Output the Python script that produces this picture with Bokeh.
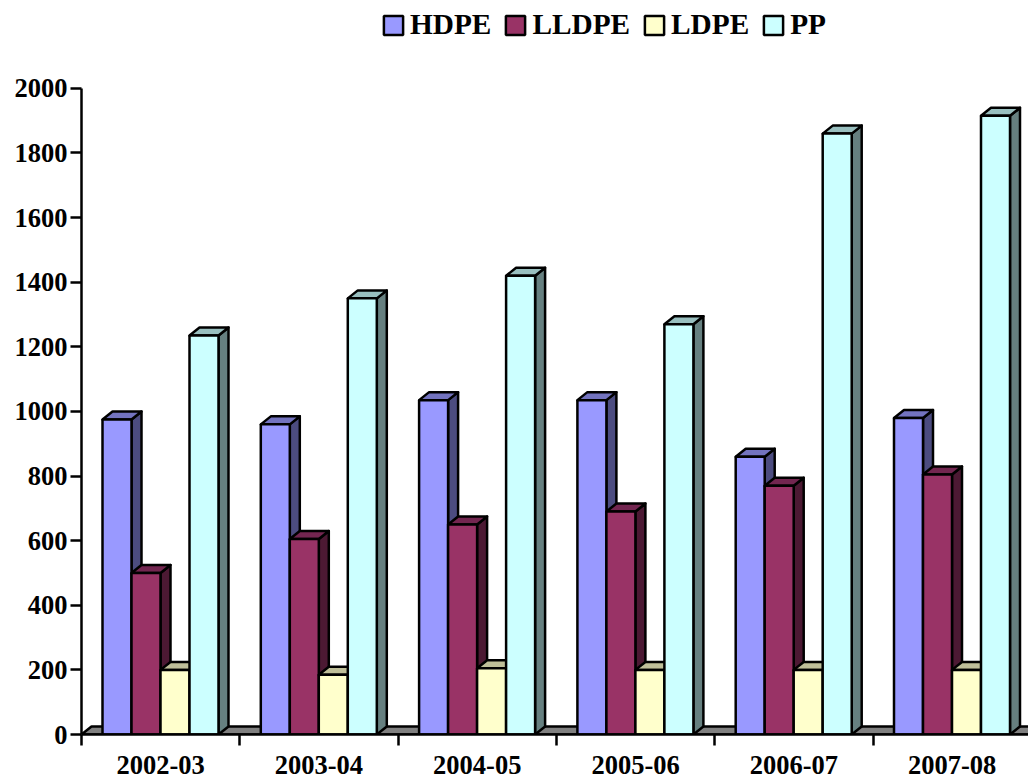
from bokeh.embed import file_html
from bokeh.models import FixedTicker, Legend, LegendItem, Range1d
from bokeh.plotting import figure
from bokeh.resources import INLINE

categories = ["2002-03", "2003-04", "2004-05", "2005-06", "2006-07", "2007-08"]
hdpe = [975, 960, 1035, 1035, 860, 980]
lldpe = [500, 605, 650, 690, 770, 805]
ldpe = [200, 185, 205, 200, 200, 200]
pp = [1235, 1350, 1420, 1270, 1860, 1915]
y_ticks = list(range(0, 2001, 200))

series = [
    ("HDPE", hdpe, "#9999FF", "#7373BF", "#4C4C80"),
    ("LLDPE", lldpe, "#993366", "#732650", "#4C1933"),
    ("LDPE", ldpe, "#FFFFCC", "#BFBF99", "#808066"),
    ("PP", pp, "#CCFFFF", "#99BFBF", "#668080"),
]

FONT = "Liberation Serif"
LEFT, AXIS_TOP, BOTTOM = 81, 88, 41
WIDTH, HEIGHT = 1028, 776
CAT_PX = 158.3
FRAME_H = HEIGHT - BOTTOM
Y_PER_PX = 2000 / (FRAME_H - AXIS_TOP)
X_PER_PX = 1 / CAT_PX
BAR_W = 29 * X_PER_PX
GROUP_START = 21 * X_PER_PX
DX = 10 * X_PER_PX
DY = 8 * Y_PER_PX
X_MAX = (WIDTH - LEFT) / CAT_PX
Y_MAX = FRAME_H * Y_PER_PX
LW = 2.5

# the frame reaches the top of the page so the legend can sit above the value axis
p = figure(
    width=WIDTH, height=HEIGHT, output_backend="svg", toolbar_location=None,
    x_range=Range1d(0, X_MAX), y_range=Range1d(0, Y_MAX),
    min_border_left=LEFT, min_border_right=0, min_border_top=0, min_border_bottom=BOTTOM,
    outline_line_color=None,
)
p.grid.visible = False

# grey floor running behind the bars
p.patch([0, DX, X_MAX + 1, X_MAX + 1], [0, DY, DY, 0],
        fill_color="#808080", line_color="black", line_width=LW)

legend_items = []
for s, (name, values, front, top, side) in enumerate(series):
    lefts = [i + GROUP_START + s * BAR_W for i in range(len(categories))]
    rights = [x + BAR_W for x in lefts]
    p.patches(
        [[r, r + DX, r + DX, r] for r in rights],
        [[0, DY, v + DY, v] for v in values],
        fill_color=side, line_color="black", line_width=LW, line_join="round",
    )
    p.patches(
        [[l, l + DX, r + DX, r] for l, r in zip(lefts, rights)],
        [[v, v + DY, v + DY, v] for v in values],
        fill_color=top, line_color="black", line_width=LW, line_join="round",
    )
    bars = p.quad(left=lefts, right=rights, bottom=0, top=values,
                  fill_color=front, line_color="black", line_width=LW)
    legend_items.append(LegendItem(label=name, renderers=[bars]))

legend = Legend(
    items=legend_items, orientation="horizontal", location=(300, 693),
    background_fill_alpha=0, border_line_color=None,
    label_text_font=FONT, label_text_font_style="bold", label_text_font_size="29.3px",
    label_text_color="black",
    label_standoff=5, glyph_width=24, glyph_height=24, spacing=12,
    padding=0, margin=0, label_height=30,
)
p.add_layout(legend, "center")

xa = p.xaxis[0]
xa.ticker = FixedTicker(
    ticks=[i + 0.5 for i in range(len(categories))],
    minor_ticks=list(range(len(categories) + 1)),
)
xa.major_label_overrides = {i + 0.5: c for i, c in enumerate(categories)}
xa.major_tick_line_color = None
xa.major_tick_out = 0
xa.major_tick_in = 0
xa.minor_tick_out = 11
xa.minor_tick_in = 0
xa.minor_tick_line_color = "black"
xa.minor_tick_line_width = LW
xa.major_label_standoff = 10
xa.axis_line_width = LW

ya = p.yaxis[0]
ya.bounds = (0, 2000)
ya.ticker = FixedTicker(ticks=y_ticks)
ya.major_tick_out = 11
ya.major_tick_in = 0
ya.major_tick_line_width = LW
ya.minor_tick_line_color = None
ya.major_label_standoff = 3
ya.axis_line_width = LW

for axis in (xa, ya):
    axis.axis_line_color = "black"
    axis.major_label_text_font = FONT
    axis.major_label_text_font_style = "bold"
    axis.major_label_text_font_size = "26.5px"
    axis.major_label_text_color = "black"

open("out.html", "w").write(file_html(p, INLINE))
